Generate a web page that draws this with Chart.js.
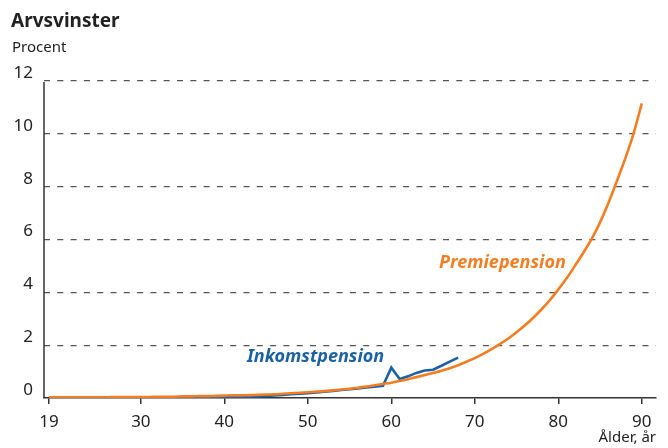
<!DOCTYPE html>
<html>
<head>
<meta charset="utf-8">
<script src="https://cdn.jsdelivr.net/npm/chart.js@4/dist/chart.umd.min.js"></script>
<style>
  html, body { margin: 0; padding: 0; background: #fff; }
  #wrap { width: 668px; height: 448px; position: relative; }
</style>
</head>
<body>
<div id="wrap"><canvas id="c" width="668" height="448"></canvas></div>
<script>
// Ages (years) and inheritance gains in percent
const agesPremie = [19,20,21,22,23,24,25,26,27,28,29,30,31,32,33,34,35,36,37,38,39,40,41,42,43,44,45,46,47,48,49,50,51,52,53,54,55,56,57,58,59,60,61,62,63,64,65,66,67,68,69,70,71,72,73,74,75,76,77,78,79,80,81,82,83,84,85,86,87,88,89,90];
const premiepension = [0.03,0.03,0.03,0.03,0.03,0.03,0.03,0.03,0.04,0.04,0.04,0.04,0.04,0.05,0.05,0.05,0.06,0.06,0.07,0.07,0.08,0.09,0.10,0.10,0.11,0.12,0.13,0.14,0.16,0.18,0.20,0.22,0.24,0.26,0.29,0.32,0.35,0.39,0.43,0.48,0.53,0.58,0.64,0.71,0.79,0.87,0.95,1.03,1.13,1.24,1.37,1.51,1.67,1.85,2.04,2.25,2.49,2.75,3.04,3.36,3.71,4.11,4.53,5.01,5.50,6.02,6.65,7.38,8.20,9.05,10.00,11.15];

const agesInkomst = [19,20,21,22,23,24,25,26,27,28,29,30,31,32,33,34,35,36,37,38,39,40,41,42,43,44,45,46,47,48,49,50,51,52,53,54,55,56,57,58,59,60,61,62,63,64,65,66,67,68];
const inkomstpension = [0.02,0.02,0.02,0.02,0.02,0.02,0.02,0.02,0.02,0.02,0.02,0.02,0.03,0.03,0.03,0.03,0.03,0.03,0.04,0.04,0.04,0.05,0.05,0.05,0.05,0.06,0.08,0.10,0.12,0.14,0.16,0.18,0.21,0.24,0.27,0.30,0.33,0.36,0.40,0.43,0.46,1.15,0.72,0.82,0.95,1.04,1.07,1.22,1.38,1.53];

const xTickValues = [19,30,40,50,60,70,80,90];
const yTickValues = [0,2,4,6,8,10,12];

const ORANGE = '#f47d22';
const BLUE = '#1b62a5';
const FONT = '"Noto Sans", "DejaVu Sans", sans-serif';

const toPoints = (xs, ys) => xs.map((x, i) => ({ x: x, y: ys[i] }));

// Series names written beside their curves, placed in data coordinates
const seriesLabels = [
  { text: 'Inkomstpension', x: 42.7, y: 1.55, color: BLUE, align: 'left' },
  { text: 'Premiepension', x: 80.9, y: 5.1, color: ORANGE, align: 'right' }
];

const headerPlugin = {
  id: 'header',
  afterDraw(chart) {
    const ctx = chart.ctx;
    ctx.save();
    ctx.fillStyle = '#222';
    ctx.textAlign = 'left';
    ctx.textBaseline = 'alphabetic';
    ctx.font = 'bold 19px ' + FONT;
    ctx.fillText('Arvsvinster', 11, 27);
    ctx.font = '15px ' + FONT;
    ctx.fillText('Procent', 12, 52);
    ctx.restore();
  }
};

const seriesLabelPlugin = {
  id: 'seriesLabels',
  afterDatasetsDraw(chart) {
    const ctx = chart.ctx;
    const xs = chart.scales.x, ys = chart.scales.y;
    ctx.save();
    ctx.font = 'italic bold 18px ' + FONT;
    ctx.textBaseline = 'middle';
    seriesLabels.forEach(l => {
      ctx.fillStyle = l.color;
      ctx.textAlign = l.align;
      ctx.fillText(l.text, xs.getPixelForValue(l.x), ys.getPixelForValue(l.y));
    });
    ctx.restore();
  }
};

// Solid y axis line on the left edge of the plot
const axisLinePlugin = {
  id: 'axisLines',
  beforeDatasetsDraw(chart) {
    const ctx = chart.ctx;
    const a = chart.chartArea;
    ctx.save();
    ctx.strokeStyle = '#333';
    ctx.lineWidth = 1.5;
    ctx.beginPath();
    ctx.moveTo(a.left, a.top + 1);
    ctx.lineTo(a.left, a.bottom);
    ctx.stroke();
    ctx.restore();
  }
};

new Chart(document.getElementById('c'), {
  type: 'line',
  data: {
    datasets: [
      {
        label: 'Premiepension',
        data: toPoints(agesPremie, premiepension),
        borderColor: ORANGE,
        borderWidth: 2.6,
        pointRadius: 0,
        cubicInterpolationMode: 'monotone',
        fill: false
      },
      {
        label: 'Inkomstpension',
        data: toPoints(agesInkomst, inkomstpension),
        borderColor: BLUE,
        borderWidth: 2.6,
        pointRadius: 0,
        tension: 0,
        fill: false
      }
    ]
  },
  options: {
    responsive: false,
    animation: false,
    layout: { padding: { top: 81, right: 12, left: 0, bottom: 1 } },
    plugins: {
      legend: { display: false },
      tooltip: { enabled: false }
    },
    scales: {
      x: {
        type: 'linear',
        min: 18.4,
        max: 91.7,
        afterBuildTicks(scale) {
          scale.ticks = xTickValues.map(v => ({ value: v }));
        },
        afterFit(scale) { scale.height = 49; },
        border: { display: true, color: '#333', width: 1.5 },
        grid: {
          display: true,
          drawOnChartArea: false,
          drawTicks: true,
          tickLength: 6,
          color: '#333',
          lineWidth: 1.5
        },
        ticks: {
          color: '#222',
          font: { family: FONT, size: 17 },
          padding: 8,
          maxRotation: 0,
          autoSkip: false
        },
        title: {
          display: true,
          text: 'Ålder, år',
          align: 'end',
          color: '#222',
          font: { family: FONT, size: 15 },
          padding: { top: 0, bottom: 0 }
        }
      },
      y: {
        min: 0,
        max: 12,
        afterBuildTicks(scale) {
          scale.ticks = yTickValues.map(v => ({ value: v }));
        },
        afterFit(scale) { scale.width = 44; },
        border: { display: false, dash: [6, 7.3] },
        grid: {
          display: true,
          drawTicks: false,
          color: ctx => ctx.tick && ctx.tick.value === 0 ? 'rgba(0,0,0,0)' : '#555',
          lineWidth: 1.2
        },
        ticks: {
          color: '#222',
          font: { family: FONT, size: 17 },
          padding: 11,
          labelOffset: -8
        }
      }
    }
  },
  plugins: [headerPlugin, seriesLabelPlugin, axisLinePlugin]
});
</script>
</body>
</html>
